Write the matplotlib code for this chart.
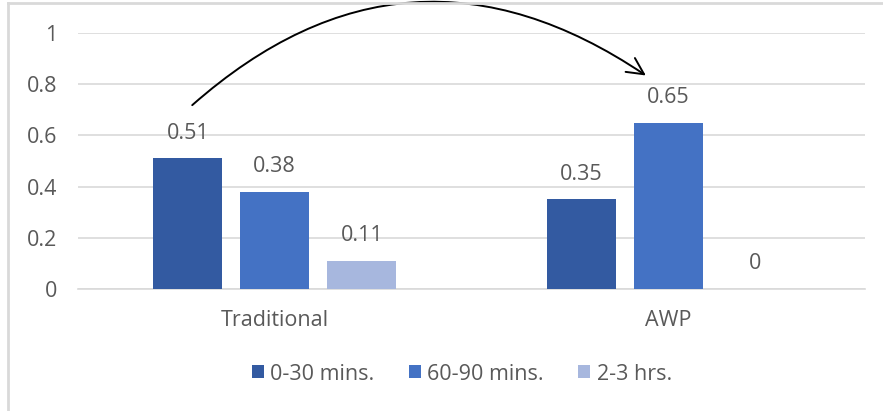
import matplotlib
matplotlib.use('Agg')
import matplotlib.pyplot as plt
import numpy as np
from matplotlib.lines import Line2D
from matplotlib.patches import FancyArrowPatch

categories = ['Traditional', 'AWP']
series_names = ['0-30 mins.', '60-90 mins.', '2-3 hrs.']
short_stay = [0.51, 0.35]
mid_stay = [0.38, 0.65]
long_stay = [0.11, 0.0]
colors = ['#335AA1', '#4472C4', '#A7B7DE']

plt.rcParams['font.family'] = ['Open Sans', 'DejaVu Sans']
text_color = '#595959'
grid_color = '#D9D9D9'
fs = 15.5

fig = plt.figure(figsize=(8.83, 4.11), dpi=100)
ax = fig.add_axes([78 / 883, 1 - 289 / 411, 787 / 883, 256 / 411])

x = np.arange(len(categories))
width = 0.175
step = 0.221
for i, (vals, name) in enumerate(zip([short_stay, mid_stay, long_stay], series_names)):
    pos = x + (i - 1) * step
    ax.bar(pos, vals, width, color=colors[i], label=name, zorder=3)
    for px, v in zip(pos, vals):
        ax.text(px, v + 0.098, f'{v:g}', ha='center', va='center',
                fontsize=fs, color=text_color)

ax.set_xlim(-0.5, 1.5)
ax.set_ylim(0, 1)
ax.set_yticks([0, 0.2, 0.4, 0.6, 0.8, 1])
ax.set_yticklabels(['0', '0.2', '0.4', '0.6', '0.8', '1'])
ax.set_xticks(x)
ax.set_xticklabels(categories)
ax.tick_params(axis='y', length=0, pad=15, labelsize=fs, labelcolor=text_color)
ax.tick_params(axis='x', length=0, pad=15, labelsize=fs, labelcolor=text_color)
ax.grid(axis='y', color=grid_color, linewidth=1.2, zorder=0)
for side in ['top', 'right', 'left']:
    ax.spines[side].set_visible(False)
ax.spines['bottom'].set_color(grid_color)
ax.spines['bottom'].set_linewidth(1.2)

# curved arrow from the Traditional group to the AWP group
arrow = FancyArrowPatch((-0.215, 0.711), (0.949, 0.828),
                        connectionstyle='arc3,rad=-0.39',
                        arrowstyle='->,head_length=12,head_width=6',
                        color='black', linewidth=1.4, clip_on=False, zorder=5)
ax.add_patch(arrow)

leg = fig.legend(loc='center', bbox_to_anchor=(462 / 883, 1 - 374 / 411), ncol=3,
                 frameon=False, fontsize=fs, handlelength=0.55, handleheight=0.55,
                 handletextpad=0.3, columnspacing=1.6)
for t in leg.get_texts():
    t.set_color(text_color)

# chart frame edges
fig.add_artist(Line2D([8 / 883, 1], [1 - 3 / 411] * 2, color=grid_color, linewidth=2,
                      transform=fig.transFigure))
fig.add_artist(Line2D([8 / 883] * 2, [0, 1 - 3 / 411], color=grid_color, linewidth=2,
                      transform=fig.transFigure))

fig.savefig('out.png', dpi=100)
